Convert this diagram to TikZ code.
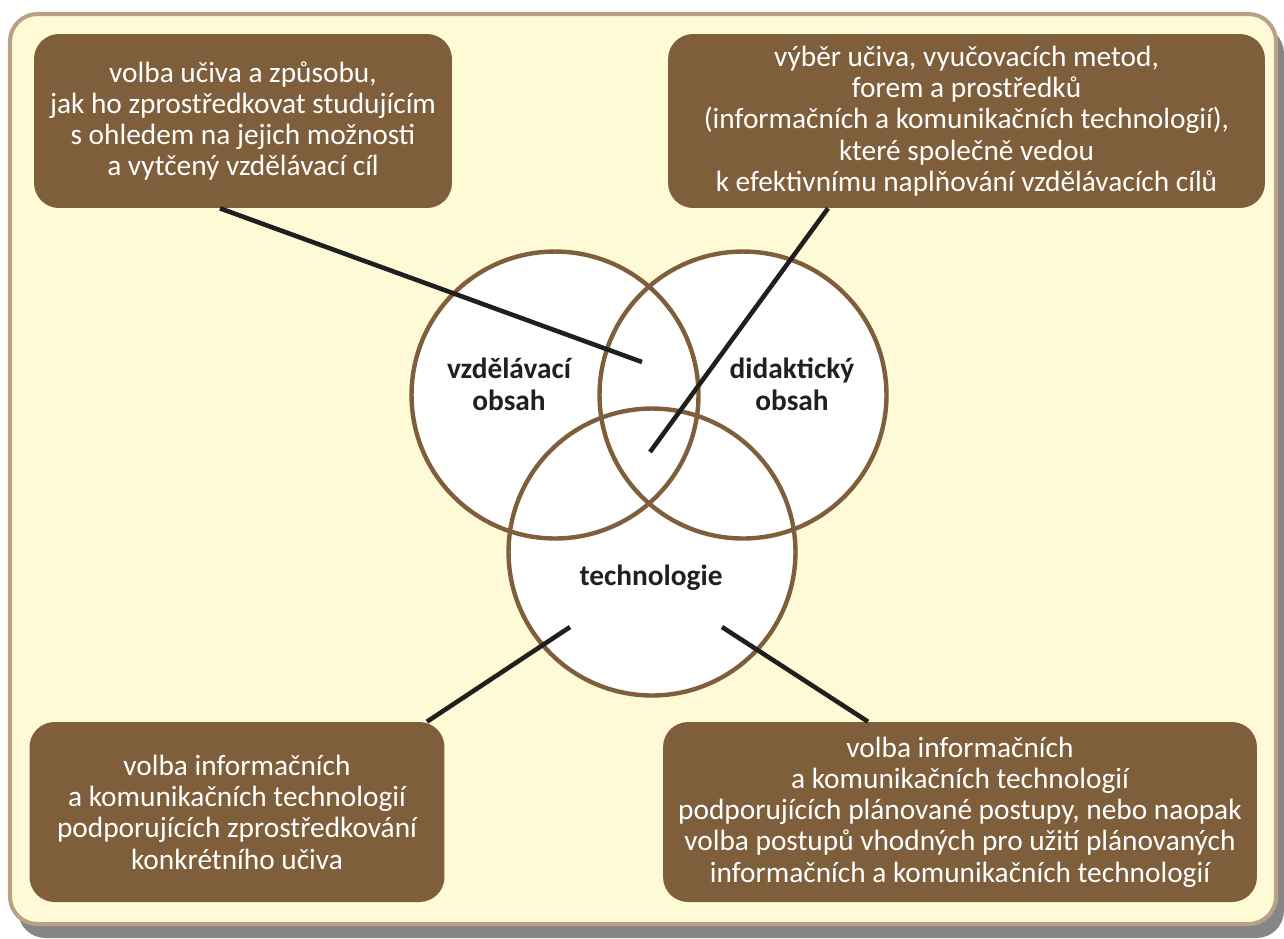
\documentclass[tikz,border=0pt]{standalone}
\usepackage{fontspec}
\setmainfont{Carlito}
\definecolor{cream}{HTML}{FFFAD6}
\definecolor{tan}{HTML}{B8A184}
\definecolor{brownbox}{HTML}{7F5E3B}
\definecolor{inktext}{HTML}{231F20}
\tikzset{
  note/.style={fill=brownbox, rounded corners=0.5cm, text=white, align=center,
    font=\fontsize{16.7}{17.8}\selectfont, inner sep=0pt},
  ring/.style={draw=brownbox, line width=2.5pt},
  tag/.style={text=inktext, align=center, font=\fontsize{16.7}{18.2}\selectfont\bfseries},
  link/.style={draw=black!88, line width=2.6pt}
}
\begin{document}
\begin{tikzpicture}[x=0.02cm, y=-0.02cm]
\useasboundingbox (0,0) rectangle (1284,938);
% frame with shadow
\fill[gray!95!white, rounded corners=0.55cm] (18,26) rectangle (1284,938);
\draw[fill=cream, draw=tan, line width=2.3pt, rounded corners=0.55cm] (10,14) rectangle (1276,924);
% the three sets
\foreach \cx/\cy in {555/395, 743/395, 652/552}
  \fill[white] (\cx,\cy) circle [radius=2.87cm];
\foreach \cx/\cy in {555/395, 743/395, 652/552}
  \draw[ring] (\cx,\cy) circle [radius=2.87cm];
\node[tag] (edu) at (509,384) {vzdělávací\\obsah};
\node[tag] (did) at (792,384) {didaktický\\obsah};
\node[tag] (tech) at (651,578) {technologie};
% pointers
\coordinate (p1) at (642,362);
\coordinate (p2) at (650,452);
\coordinate (p3) at (570,627);
\coordinate (p4) at (722,627);
% boxes
\node[note, minimum width=8.36cm, minimum height=3.48cm] (b1) at (243,121)
  {volba učiva a způsobu,\\jak ho zprostředkovat studujícím\\s ohledem na jejich možnosti\\a vytčený vzdělávací cíl};
\node[note, minimum width=11.94cm, minimum height=3.48cm] (b2) at (966.5,121)
  {výběr učiva, vyučovacích metod,\\forem a prostředků\\(informačních a komunikačních technologií),\\které společně vedou\\k efektivnímu naplňování vzdělávacích cílů};
\node[note, minimum width=8.3cm, minimum height=3.6cm] (b3) at (237,812)
  {volba informačních\\a komunikačních technologií\\podporujících zprostředkování\\konkrétního učiva};
\node[note, minimum width=11.88cm, minimum height=3.6cm] (b4) at (960,812)
  {volba informačních\\a komunikačních technologií\\podporujících plánované postupy, nebo naopak\\volba postupů vhodných pro užití plánovaných\\informačních a komunikačních technologií};
\draw[link] ([xshift=-0.46cm]b1.south) -- (p1);
\draw[link] ([xshift=-2.77cm]b2.south) -- (p2);
\draw[link] ([xshift=3.8cm]b3.north) -- (p3);
\draw[link] ([xshift=-1.84cm]b4.north) -- (p4);
\end{tikzpicture}
\end{document}
